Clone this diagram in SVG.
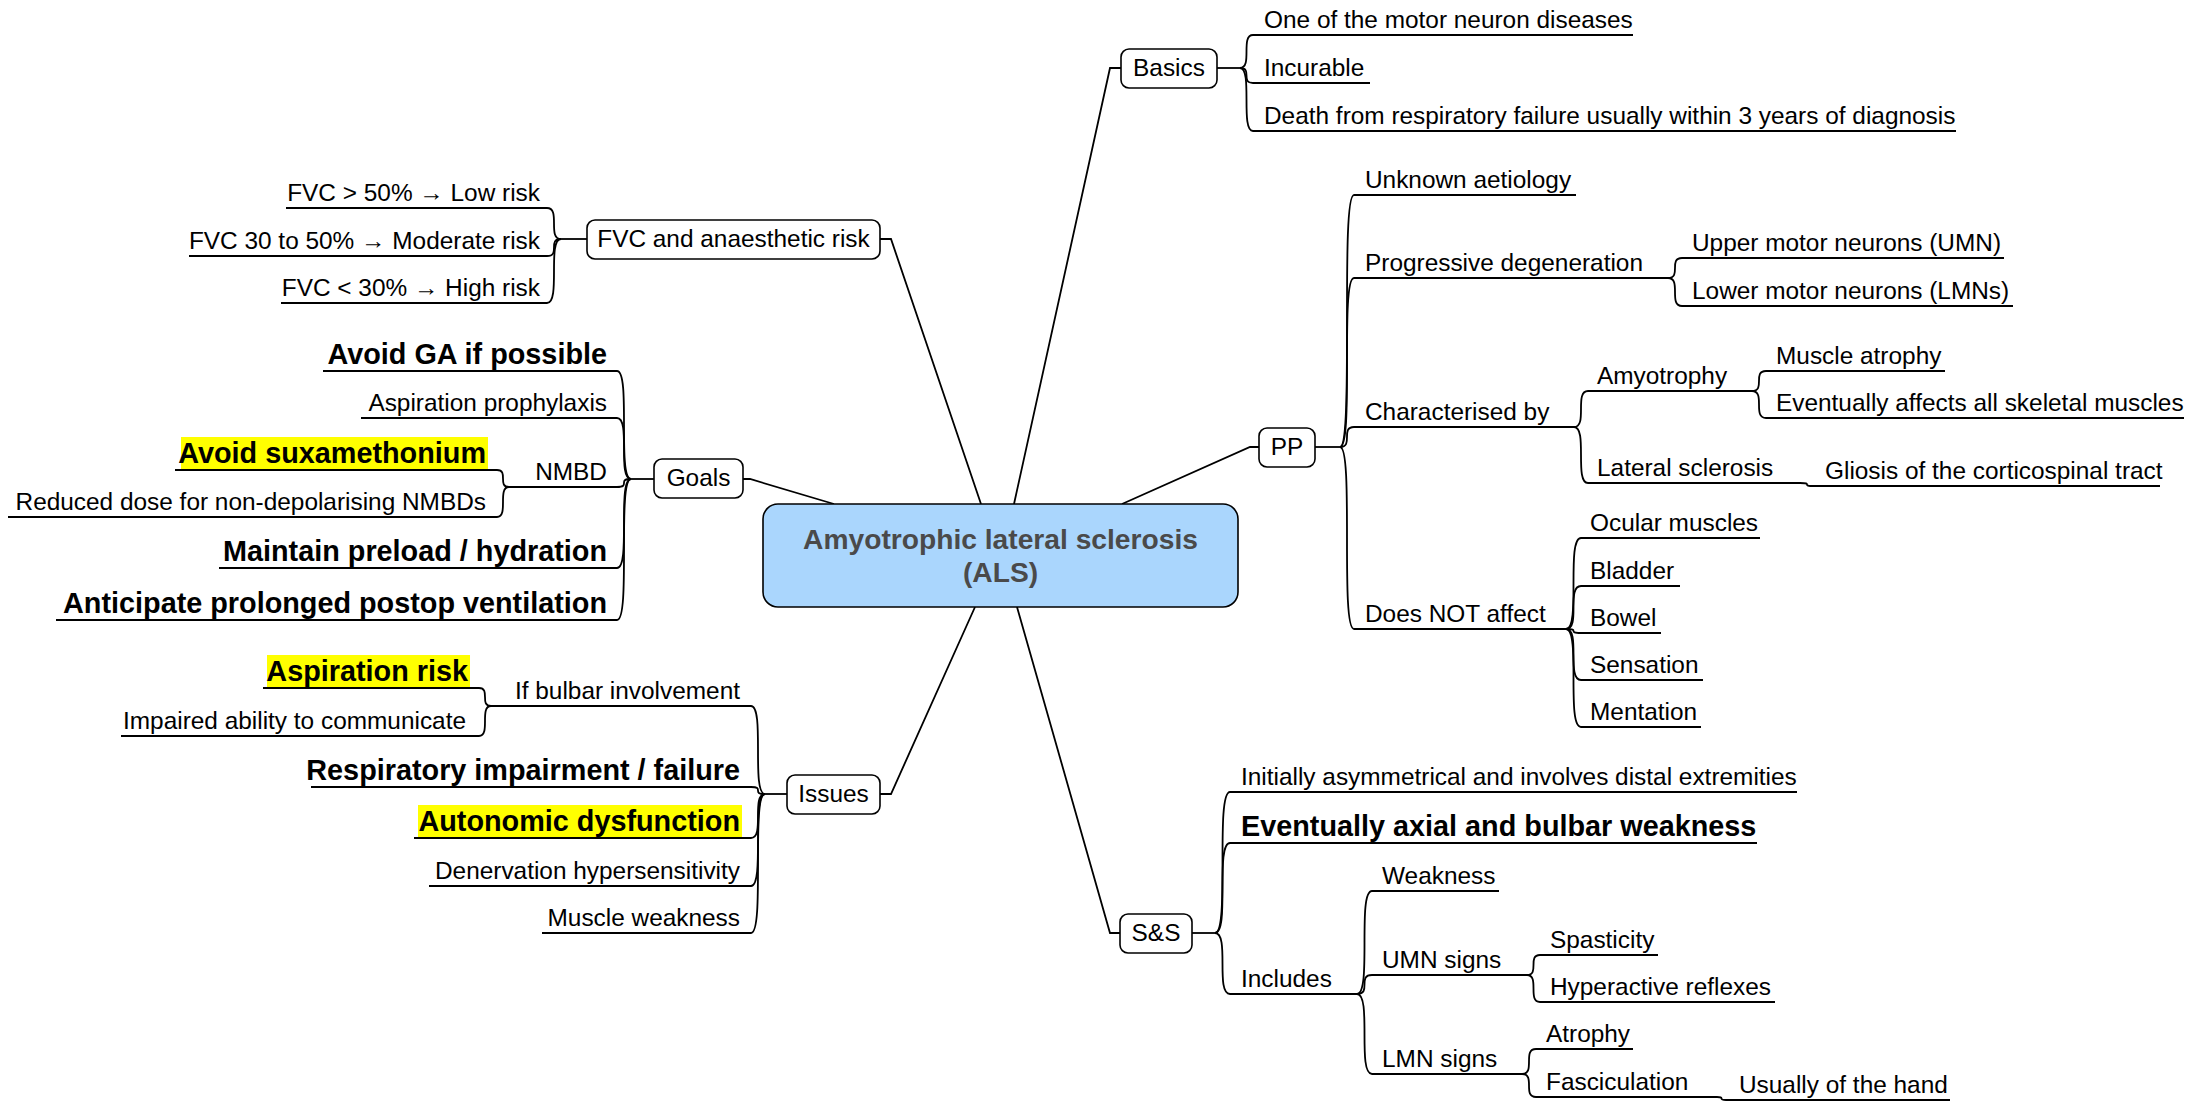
<svg xmlns="http://www.w3.org/2000/svg" width="2193" height="1101" viewBox="0 0 2193 1101">
  <style>
    text { font-family: "Liberation Sans", Arial, sans-serif; fill: #000; }
    .t { font-size: 24.4px; }
    .b { font-size: 28.8px; font-weight: bold; }
    .r { text-anchor: end; }
    .c { text-anchor: middle; }
    .root-text { font-size: 28.2px; font-weight: bold; fill: #4a4a4a; text-anchor: middle; }
    .box { fill: #fff; stroke: #000; stroke-width: 1.6; }
    .root { fill: #aad6fd; stroke: #000; stroke-width: 1.6; }
    .hl { fill: #ffff00; }
    #connectors path { fill: none; stroke: #000; stroke-width: 1.8; }
  </style>

  <!-- highlight backgrounds behind emphasised items -->
  <rect class="hl" x="181" y="437" width="307" height="32"/>
  <rect class="hl" x="267" y="655" width="203" height="32"/>
  <rect class="hl" x="418" y="805" width="324" height="32"/>

  <g id="connectors">
    <!-- root to first-level nodes -->
    <path d="M981 504 L891 239 H880"/>
    <path d="M1014 504 L1110 68 H1121"/>
    <path d="M834 504 L750 479 H743"/>
    <path d="M1122 504 L1250 447 H1259"/>
    <path d="M975 607 L891 794 H880"/>
    <path d="M1017 607 L1110 933 H1120"/>

    <!-- Basics -->
    <path d="M1217 68 H1240"/>
    <path d="M1240 68 C1253 68 1240 35 1253 35 H1633"/>
    <path d="M1240 68 C1253 68 1240 83 1253 83 H1370"/>
    <path d="M1240 68 C1253 68 1240 131 1253 131 H1956"/>

    <!-- PP -->
    <path d="M1315 447 H1340"/>
    <path d="M1340 447 C1354 447 1340 195 1354 195 H1576"/>
    <path d="M1340 447 C1354 447 1340 278 1354 278 H1668"/>
    <path d="M1340 447 C1354 447 1340 427 1354 427 H1574"/>
    <path d="M1340 447 C1354 447 1340 629 1354 629 H1566"/>
    <path d="M1668 278 C1682 278 1668 258 1682 258 H2004"/>
    <path d="M1668 278 C1682 278 1668 306 1682 306 H2013"/>
    <path d="M1574 427 C1588 427 1574 391 1588 391 H1752"/>
    <path d="M1574 427 C1588 427 1574 483 1588 483 H1800"/>
    <path d="M1752 391 C1766 391 1752 371 1766 371 H1945"/>
    <path d="M1752 391 C1766 391 1752 418 1766 418 H2184"/>
    <path d="M1800 483 C1814 483 1800 486 1814 486 H2160"/>
    <path d="M1566 629 C1581 629 1566 538 1581 538 H1760"/>
    <path d="M1566 629 C1581 629 1566 586 1581 586 H1680"/>
    <path d="M1566 629 C1581 629 1566 633 1581 633 H1661"/>
    <path d="M1566 629 C1581 629 1566 680 1581 680 H1703"/>
    <path d="M1566 629 C1581 629 1566 727 1581 727 H1701"/>

    <!-- S&S -->
    <path d="M1192 933 H1215"/>
    <path d="M1215 933 C1230 933 1215 792 1230 792 H1797"/>
    <path d="M1215 933 C1230 933 1215 843 1230 843 H1757"/>
    <path d="M1215 933 C1230 933 1215 994 1230 994 H1357"/>
    <path d="M1357 994 C1372 994 1357 891 1372 891 H1499"/>
    <path d="M1357 994 C1372 994 1357 975 1372 975 H1527"/>
    <path d="M1357 994 C1372 994 1357 1074 1372 1074 H1522"/>
    <path d="M1527 975 C1540 975 1527 955 1540 955 H1658"/>
    <path d="M1527 975 C1540 975 1527 1002 1540 1002 H1775"/>
    <path d="M1522 1074 C1536 1074 1522 1049 1536 1049 H1633"/>
    <path d="M1522 1074 C1536 1074 1522 1097 1536 1097 H1717"/>
    <path d="M1717 1097 C1726 1097 1717 1100 1726 1100 H1950"/>

    <!-- FVC and anaesthetic risk -->
    <path d="M587 239 H561"/>
    <path d="M561 239 C547 239 561 208 547 208 H286"/>
    <path d="M561 239 C547 239 561 256 547 256 H189"/>
    <path d="M561 239 C547 239 561 303 547 303 H281"/>

    <!-- Goals -->
    <path d="M654 479 H631"/>
    <path d="M631 479 C617 479 631 371 617 371 H323"/>
    <path d="M631 479 C617 479 631 418 617 418 H361"/>
    <path d="M631 479 C617 479 631 487 617 487 H509"/>
    <path d="M631 479 C617 479 631 568 617 568 H219"/>
    <path d="M631 479 C617 479 631 620 617 620 H56"/>
    <path d="M509 487 C497 487 509 470 497 470 H175"/>
    <path d="M509 487 C497 487 509 517 497 517 H8"/>

    <!-- Issues -->
    <path d="M787 794 H765"/>
    <path d="M765 794 C751 794 765 706 751 706 H491"/>
    <path d="M765 794 C751 794 765 787 751 787 H311"/>
    <path d="M765 794 C751 794 765 838 751 838 H414"/>
    <path d="M765 794 C751 794 765 886 751 886 H429"/>
    <path d="M765 794 C751 794 765 933 751 933 H542"/>
    <path d="M491 706 C479 706 491 688 479 688 H263"/>
    <path d="M491 706 C479 706 491 736 479 736 H121"/>
  </g>

  <!-- central topic -->
  <g id="root">
    <rect class="root" x="763" y="504" width="475" height="103" rx="15"/>
    <text class="root-text" x="1000.5" y="549">Amyotrophic lateral sclerosis</text>
    <text class="root-text" x="1000.5" y="582">(ALS)</text>
  </g>

  <!-- first-level nodes -->
  <g id="basics">
    <rect class="box" x="1121" y="49" width="96" height="39" rx="8"/>
    <text class="t c" x="1169" y="76">Basics</text>
  </g>
  <g id="pp">
    <rect class="box" x="1259" y="428" width="56" height="39" rx="8"/>
    <text class="t c" x="1287" y="455">PP</text>
  </g>
  <g id="ss">
    <rect class="box" x="1120" y="914" width="72" height="39" rx="8"/>
    <text class="t c" x="1156" y="941">S&amp;S</text>
  </g>
  <g id="fvc">
    <rect class="box" x="587" y="220" width="293" height="39" rx="8"/>
    <text class="t c" x="733.5" y="247">FVC and anaesthetic risk</text>
  </g>
  <g id="goals">
    <rect class="box" x="654" y="459" width="89" height="39" rx="8"/>
    <text class="t c" x="698.5" y="486">Goals</text>
  </g>
  <g id="issues">
    <rect class="box" x="787" y="775" width="93" height="39" rx="8"/>
    <text class="t c" x="833.5" y="802">Issues</text>
  </g>

  <!-- Basics items -->
  <g id="basics-items">
    <text class="t" x="1264" y="28">One of the motor neuron diseases</text>
    <text class="t" x="1264" y="76">Incurable</text>
    <text class="t" x="1264" y="124">Death from respiratory failure usually within 3 years of diagnosis</text>
  </g>

  <!-- PP items -->
  <g id="pp-items">
    <text class="t" x="1365" y="188">Unknown aetiology</text>
    <text class="t" x="1365" y="271">Progressive degeneration</text>
    <text class="t" x="1692" y="251">Upper motor neurons (UMN)</text>
    <text class="t" x="1692" y="299">Lower motor neurons (LMNs)</text>
    <text class="t" x="1365" y="420">Characterised by</text>
    <text class="t" x="1597" y="384">Amyotrophy</text>
    <text class="t" x="1776" y="364">Muscle atrophy</text>
    <text class="t" x="1776" y="411">Eventually affects all skeletal muscles</text>
    <text class="t" x="1597" y="476">Lateral sclerosis</text>
    <text class="t" x="1825" y="479">Gliosis of the corticospinal tract</text>
    <text class="t" x="1365" y="622">Does NOT affect</text>
    <text class="t" x="1590" y="531">Ocular muscles</text>
    <text class="t" x="1590" y="579">Bladder</text>
    <text class="t" x="1590" y="626">Bowel</text>
    <text class="t" x="1590" y="673">Sensation</text>
    <text class="t" x="1590" y="720">Mentation</text>
  </g>

  <!-- S&S items -->
  <g id="ss-items">
    <text class="t" x="1241" y="785">Initially asymmetrical and involves distal extremities</text>
    <text class="b" x="1241" y="836">Eventually axial and bulbar weakness</text>
    <text class="t" x="1241" y="987">Includes</text>
    <text class="t" x="1382" y="884">Weakness</text>
    <text class="t" x="1382" y="968">UMN signs</text>
    <text class="t" x="1550" y="948">Spasticity</text>
    <text class="t" x="1550" y="995">Hyperactive reflexes</text>
    <text class="t" x="1382" y="1067">LMN signs</text>
    <text class="t" x="1546" y="1042">Atrophy</text>
    <text class="t" x="1546" y="1090">Fasciculation</text>
    <text class="t" x="1739" y="1093">Usually of the hand</text>
  </g>

  <!-- FVC items -->
  <g id="fvc-items">
    <text class="t r" x="540" y="201">FVC &gt; 50% → Low risk</text>
    <text class="t r" x="540" y="249">FVC 30 to 50% → Moderate risk</text>
    <text class="t r" x="540" y="296">FVC &lt; 30% → High risk</text>
  </g>

  <!-- Goals items -->
  <g id="goals-items">
    <text class="b r" x="607" y="364">Avoid GA if possible</text>
    <text class="t r" x="607" y="411">Aspiration prophylaxis</text>
    <text class="t r" x="607" y="480">NMBD</text>
    <text class="b r" x="486" y="463">Avoid suxamethonium</text>
    <text class="t r" x="486" y="510">Reduced dose for non-depolarising NMBDs</text>
    <text class="b r" x="607" y="561">Maintain preload / hydration</text>
    <text class="b r" x="607" y="613">Anticipate prolonged postop ventilation</text>
  </g>

  <!-- Issues items -->
  <g id="issues-items">
    <text class="t r" x="740" y="699">If bulbar involvement</text>
    <text class="b r" x="468" y="681">Aspiration risk</text>
    <text class="t r" x="466" y="729">Impaired ability to communicate</text>
    <text class="b r" x="740" y="780">Respiratory impairment / failure</text>
    <text class="b r" x="740" y="831">Autonomic dysfunction</text>
    <text class="t r" x="740" y="879">Denervation hypersensitivity</text>
    <text class="t r" x="740" y="926">Muscle weakness</text>
  </g>
</svg>
